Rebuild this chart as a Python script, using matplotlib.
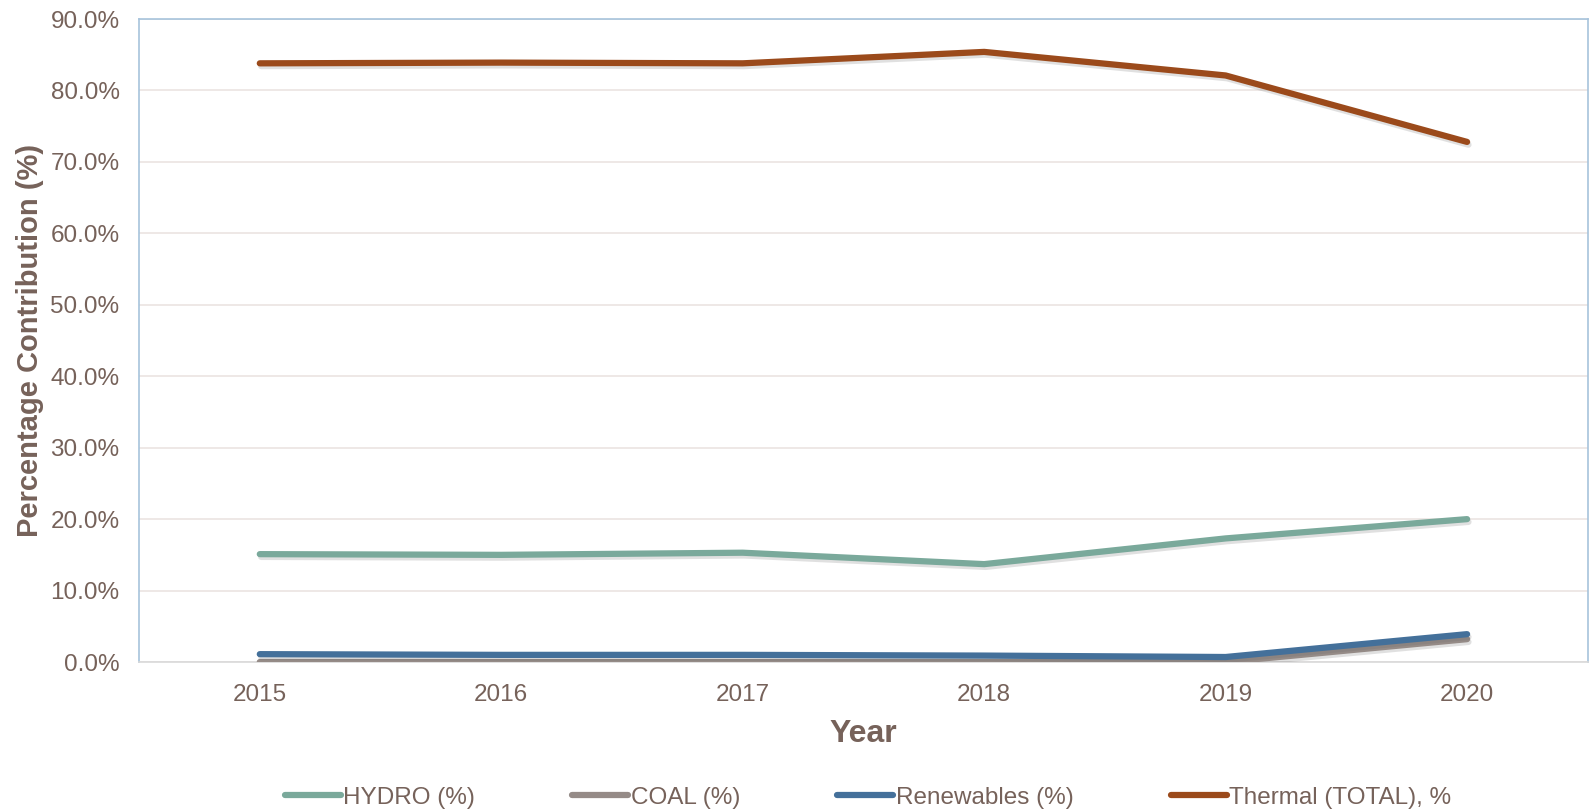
import matplotlib
matplotlib.use("Agg")
import matplotlib.pyplot as plt
import matplotlib.patheffects as pe
from matplotlib.ticker import FuncFormatter

years = ["2015", "2016", "2017", "2018", "2019", "2020"]
hydro = [15.1, 15.0, 15.3, 13.7, 17.3, 20.0]
coal = [0.0, 0.0, 0.0, 0.0, 0.0, 3.2]
renewables = [1.1, 1.0, 1.0, 0.9, 0.7, 3.9]
thermal = [83.8, 83.9, 83.8, 85.4, 82.1, 72.8]

series = [
    ("HYDRO (%)", hydro, "#7aa99b"),
    ("COAL (%)", coal, "#958b87"),
    ("Renewables (%)", renewables, "#44709a"),
    ("Thermal (TOTAL), %", thermal, "#9b4a1b"),
]

plt.rcParams['font.family'] = ['Liberation Sans', 'DejaVu Sans']
txt = "#76625a"

fig = plt.figure(figsize=(15.91, 8.10), dpi=100)
ax = fig.add_axes([0.0874, 0.1827, 0.9106, 0.7938])

x = list(range(len(years)))
shadow = [pe.SimpleLineShadow(offset=(1.0, -2.0), shadow_color="#666666", alpha=0.2), pe.Normal()]
for name, vals, col in series:
    ax.plot(x, vals, color=col, lw=4.5, solid_capstyle="round", solid_joinstyle="round",
            label=name, path_effects=shadow, zorder=3)

ax.set_xlim(-0.5, 5.5)
ax.set_ylim(0, 90)
ax.set_yticks(range(0, 91, 10))
ax.yaxis.set_major_formatter(FuncFormatter(lambda v, p: f"{v:.1f}%"))
ax.set_xticks(x)
ax.set_xticklabels(years)
ax.grid(axis="y", color="#ebe4e1", lw=1.2, zorder=0)
ax.set_axisbelow(True)
ax.tick_params(axis="both", length=0, labelsize=17.5, colors=txt)
ax.tick_params(axis="x", pad=16)
ax.tick_params(axis="y", pad=14)
for s in ["left", "top", "right"]:
    ax.spines[s].set_color("#a7c3dc")
    ax.spines[s].set_linewidth(1.2)
ax.spines["bottom"].set_color("#d9d9d9")
ax.spines["bottom"].set_linewidth(1.2)

ax.set_xlabel("Year", fontsize=23, fontweight="bold", color=txt, labelpad=9)
ax.set_ylabel("Percentage Contribution (%)", fontsize=21, fontweight="bold", color=txt, labelpad=5)

leg = fig.legend(loc="center", bbox_to_anchor=(0.5456, 0.015), ncol=4, frameon=False,
                 fontsize=17.5, handlelength=2.3, handletextpad=0.1, columnspacing=4.0)
for t in leg.get_texts():
    t.set_color(txt)
for h in leg.legend_handles:
    h.set_path_effects([])

fig.savefig("out.png", dpi=100)
